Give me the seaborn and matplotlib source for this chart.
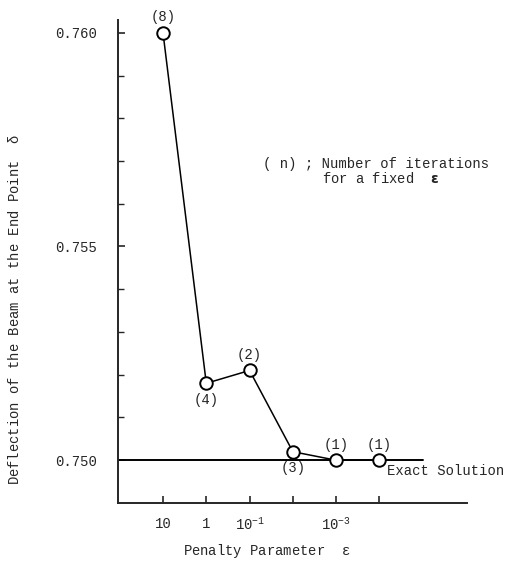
import numpy as np
import pandas as pd
import seaborn as sns
import matplotlib.pyplot as plt

# penalty parameter eps and resulting end deflection
eps = [10, 1, 1e-1, 1e-2, 1e-3, 1e-4]
deflection = [0.7600, 0.7518, 0.7521, 0.7502, 0.7500, 0.7500]
iterations = ["(8)", "(4)", "(2)", "(3)", "(1)", "(1)"]
label_side = ["above", "below", "above", "below", "above", "above"]
exact_value = 0.750
tick_labels = ["10", "1", "$10^{-1}$", "", "$10^{-3}$", ""]

sns.set_style("ticks")
plt.rcParams["font.family"] = ["Liberation Mono", "DejaVu Sans"]
plt.rcParams["mathtext.fontset"] = "custom"
plt.rcParams["mathtext.rm"] = "Liberation Mono"
plt.rcParams["mathtext.it"] = "Liberation Mono"

df = pd.DataFrame({"eps": eps, "deflection": deflection})
df["x"] = -np.log10(df["eps"])

fig = plt.figure(figsize=(5.13, 5.63), dpi=100)
ax = fig.add_axes([0.230, 0.1066, 0.680, 0.858])

# exact solution line
ax.plot([-2.1, 5.0], [exact_value, exact_value], color="black", lw=1.4, zorder=1)
ax.text(4.17, 0.74974, "Exact Solution", fontsize=10, va="center", ha="left")

sns.lineplot(data=df, x="x", y="deflection", ax=ax, color="black", lw=1.1,
             marker="o", markersize=9, markerfacecolor="white",
             markeredgecolor="black", markeredgewidth=1.4, zorder=3)

for xv, yv, lab, side in zip(df["x"], df["deflection"], iterations, label_side):
    dy = 11 if side == "above" else -12
    ax.annotate(lab, (xv, yv), xytext=(0, dy), textcoords="offset points",
                ha="center", va="center", fontsize=10)

ax.text(1.30, 0.75694, "( n) ; Number of iterations", fontsize=10, va="center")
ax.text(2.67, 0.75659, "for a fixed  $\\mathbf{\\varepsilon}$", fontsize=10, va="center")

ax.set_xlim(-2.04, 6.02)
ax.set_ylim(0.749, 0.7603)
ax.set_xticks(df["x"])
ax.set_xticklabels(tick_labels)
ax.set_yticks([0.750, 0.755, 0.760])
ax.set_yticklabels(["0.750", "0.755", "0.760"])
ax.set_yticks(np.arange(0.751, 0.760, 0.001), minor=True)
ax.tick_params(axis="x", direction="in", length=5, width=1.2, labelsize=10, pad=10)
ax.tick_params(axis="y", direction="in", length=5, width=1.2, labelsize=10, pad=15)
ax.tick_params(axis="y", which="minor", direction="in", length=4, width=1.0)

sns.despine(ax=ax)
for s in ["left", "bottom"]:
    ax.spines[s].set_linewidth(1.4)

ax.set_xlabel("Penalty Parameter  $\\varepsilon$", fontsize=10, va="center")
ax.xaxis.set_label_coords(0.427, -0.1)
ax.set_ylabel("Deflection of the Beam at the End Point  $\\delta$", fontsize=10)
ax.yaxis.set_label_coords(-0.275, 0.40)

fig.savefig("out.png", dpi=100)
